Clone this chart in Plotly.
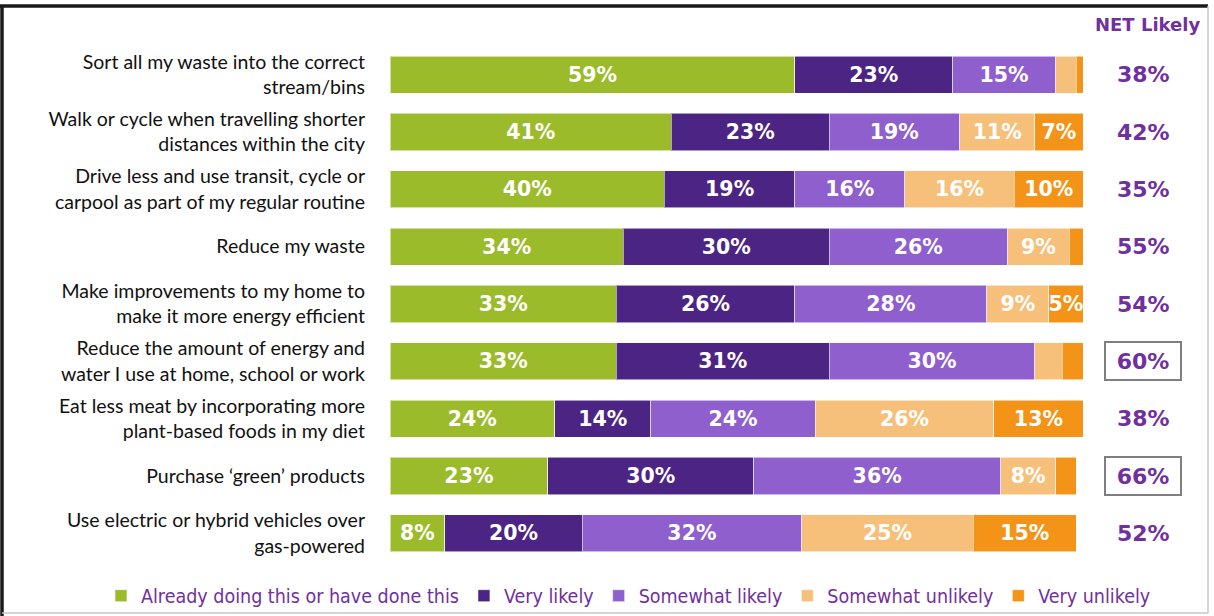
import plotly.graph_objects as go

# Actions, top to bottom
categories = [
    "Sort all my waste into the correct<br>stream/bins",
    "Walk or cycle when travelling shorter<br>distances within the city",
    "Drive less and use transit, cycle or<br>carpool as part of my regular routine",
    "Reduce my waste",
    "Make improvements to my home to<br>make it more energy efficient",
    "Reduce the amount of energy and<br>water I use at home, school or work",
    "Eat less meat by incorporating more<br>plant-based foods in my diet",
    "Purchase \u2018green\u2019 products",
    "Use electric or hybrid vehicles over<br>gas-powered",
]

series_names = [
    "Already doing this or have done this",
    "Very likely",
    "Somewhat likely",
    "Somewhat unlikely",
    "Very unlikely",
]

already_doing = [59, 41, 40, 34, 33, 33, 24, 23, 8]
very_likely = [23, 23, 19, 30, 26, 31, 14, 30, 20]
somewhat_likely = [15, 19, 16, 26, 28, 30, 24, 36, 32]
somewhat_unlikely = [3, 11, 16, 9, 9, 4, 26, 8, 25]
very_unlikely = [1, 7, 10, 2, 5, 3, 13, 3, 15]

net_likely = [38, 42, 35, 55, 54, 60, 38, 66, 52]
net_highlight = [False, False, False, False, False, True, False, True, False]

colors = ["#9BBB2B", "#4B2484", "#8E5FCD", "#F7C07A", "#F39419"]
PURPLE = "#7030A0"

# Figure geometry in pixels
W, H = 1214, 616
PLOT_L, PLOT_R = 390, 1083
PLOT_T, PLOT_B = 46, 562
X_MAX = 101


def px_x(px):
    return (px - PLOT_L) / (PLOT_R - PLOT_L)


def px_y(py):
    return (PLOT_B - py) / (PLOT_B - PLOT_T)


fig = go.Figure()
all_series = [already_doing, very_likely, somewhat_likely, somewhat_unlikely, very_unlikely]
for name, vals, col in zip(series_names, all_series, colors):
    fig.add_trace(go.Bar(
        name=name,
        y=categories,
        x=vals,
        orientation="h",
        marker=dict(color=col, line=dict(color="rgba(255,255,255,0.55)", width=1)),
        text=[f"{v}%" if v >= 5 else "" for v in vals],
        textposition="inside",
        insidetextanchor="middle",
        textangle=0,
        constraintext="none",
        insidetextfont=dict(family="DejaVu Sans", size=20.5, color="white", weight="bold"),
        hoverinfo="skip",
    ))

# NET Likely column
for cat, val, hl in zip(categories, net_likely, net_highlight):
    ann = dict(
        x=px_x(1143), xref="paper", y=cat, yref="y",
        text=f"{val}%", showarrow=False, xanchor="center", yanchor="middle",
        font=dict(family="DejaVu Sans", size=22, color=PURPLE, weight="bold"),
    )
    if hl:
        ann.update(bordercolor="#7F7F7F", borderwidth=2, width=72, height=34)
    fig.add_annotation(**ann)

fig.add_annotation(
    x=px_x(1147), xref="paper", y=px_y(25), yref="paper",
    text="NET Likely", showarrow=False, xanchor="center", yanchor="middle",
    font=dict(family="DejaVu Sans", size=18, color=PURPLE, weight="bold"),
)

# Frame around the slide region
shapes = [
    dict(type="line", xref="paper", yref="paper", x0=px_x(0), x1=px_x(1208), y0=px_y(6), y1=px_y(6),
         line=dict(color="#1A1A1A", width=3.5)),
    dict(type="line", xref="paper", yref="paper", x0=px_x(2), x1=px_x(2), y0=px_y(6), y1=px_y(616),
         line=dict(color="#1A1A1A", width=3.5)),
    dict(type="line", xref="paper", yref="paper", x0=px_x(1208), x1=px_x(1208), y0=px_y(6), y1=px_y(613),
         line=dict(color="#C8C8C8", width=1.5)),
    dict(type="line", xref="paper", yref="paper", x0=px_x(2), x1=px_x(1208), y0=px_y(613), y1=px_y(613),
         line=dict(color="#C8C8C8", width=1.5)),
]

fig.update_layout(
    width=W, height=H,
    barmode="stack",
    bargap=0.35,
    margin=dict(l=PLOT_L, r=W - PLOT_R, t=PLOT_T, b=H - PLOT_B, pad=0, autoexpand=False),
    paper_bgcolor="white",
    plot_bgcolor="white",
    shapes=shapes,
    xaxis=dict(range=[0, X_MAX], visible=False, fixedrange=True),
    yaxis=dict(
        autorange="reversed",
        showgrid=False, zeroline=False, showline=False, ticks="",
        ticklabelstandoff=24,
        tickfont=dict(family="Lato", size=19.5, color="#111111"),
    ),
    legend=dict(
        orientation="h",
        x=px_x(101), xanchor="left",
        y=px_y(596), yanchor="middle",
        bgcolor="rgba(0,0,0,0)",
        font=dict(family="DejaVu Sans Condensed, DejaVu Sans", size=19.5, color=PURPLE),
        itemwidth=30,
        traceorder="normal",
    ),
    showlegend=True,
)

fig.write_html("out.html")
